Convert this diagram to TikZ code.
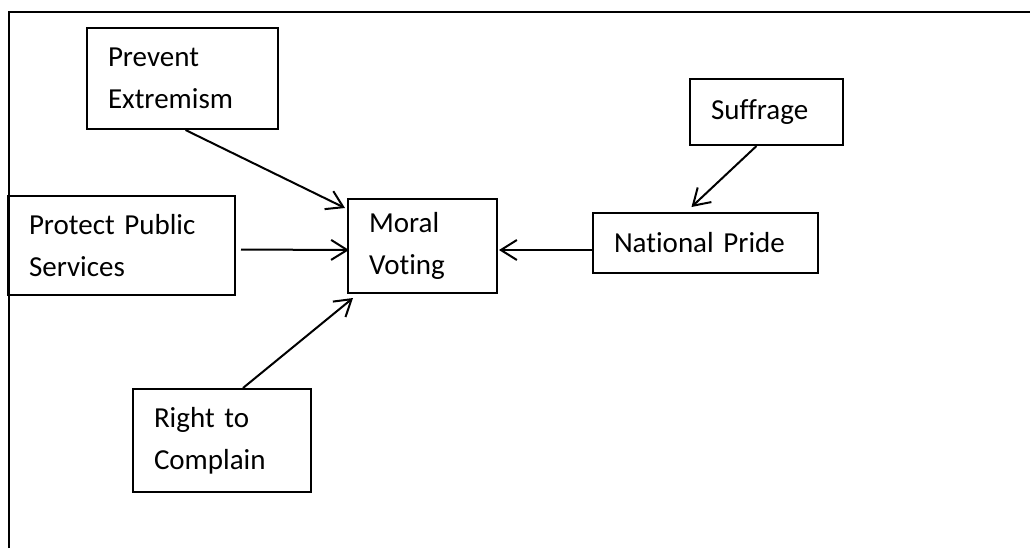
\documentclass[tikz,border=0pt]{standalone}
\usepackage{fontspec}
\setmainfont{Carlito}[Ligatures=NoCommon]
\usetikzlibrary{arrows.meta,calc}
\begin{document}
\begin{tikzpicture}[x=0.5pt,y=-0.5pt,
  box/.style={draw,line width=1pt,anchor=north west,align=left,
    inner xsep=10.5pt,inner ysep=0pt,font=\fontsize{14.5}{21}\selectfont},
  conn/.style={line width=1pt,-{Straight Barb[length=8pt,width=10pt,line width=1pt]}}]
\useasboundingbox (0,0) rectangle (1030,548);
\draw[line width=1pt] (9,548) -- (9,12) -- (1030,12);
\node[box,text width=74.5pt,minimum height=50.5pt] (pe) at (86,27) {Prevent\\Extremism};
\node[box,text width=92.5pt,minimum height=49.5pt] (pps) at (7,195) {Protect Public\\Services};
\node[box,text width=53.5pt,minimum height=47pt] (mv) at (347,198) {Moral\\Voting};
\node[box,text width=91.5pt,minimum height=30pt] (np) at (592,212) {National Pride};
\node[box,text width=55.5pt,minimum height=33pt] (su) at (689,78) {Suffrage};
\node[box,text width=68pt,minimum height=51.5pt] (rc) at (132,388) {Right to\\Complain};
\draw[conn] ($(pe.south)+(3,0)$) -- ($(mv.north west)+(-2,10)$);
\draw[conn] ($(pps.east)+(5,4)$) -- ($(mv.west)+(2,4)$);
\draw[conn] ($(rc.north)+(21,0)$) -- ($(mv.south west)+(6,4)$);
\draw[conn] ($(np.west)+(0,7)$) -- ($(mv.east)+(1,4)$);
\draw[conn] ($(su.south)+(-10,0)$) -- ($(np.north)+(-14,-5)$);
\end{tikzpicture}
\end{document}
